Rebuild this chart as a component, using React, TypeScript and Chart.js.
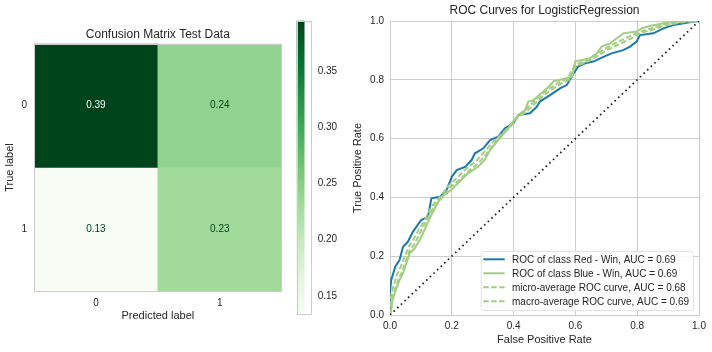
import React, { useEffect, useRef } from 'react';
import { Chart, registerables } from 'chart.js';

Chart.register(...registerables);

// ---------- data ----------
const CM_LABELS = ['0', '1'];
const CM_ROW_0 = [0.3949, 0.2421];
const CM_ROW_1 = [0.133, 0.23];
const CB_TICKS = [0.15, 0.2, 0.25, 0.3, 0.35];
const ROC_TICKS = [0, 0.2, 0.4, 0.6, 0.8, 1.0];

const RED_FPR = [0, 0, 0.004, 0.017, 0.031, 0.042, 0.058, 0.074, 0.101, 0.123, 0.134, 0.162, 0.183, 0.2, 0.216, 0.243, 0.264, 0.275, 0.302, 0.324, 0.35, 0.372, 0.399, 0.415, 0.453, 0.475, 0.485, 0.518, 0.55, 0.572, 0.588, 0.609, 0.631, 0.658, 0.68, 0.717, 0.755, 0.777, 0.798, 0.809, 0.852, 0.885, 0.917, 0.96, 0.987, 1];
const RED_TPR = [0, 0.079, 0.119, 0.164, 0.187, 0.232, 0.249, 0.283, 0.323, 0.334, 0.397, 0.402, 0.425, 0.47, 0.493, 0.504, 0.527, 0.55, 0.567, 0.595, 0.607, 0.635, 0.652, 0.68, 0.686, 0.708, 0.726, 0.748, 0.771, 0.782, 0.811, 0.845, 0.856, 0.862, 0.873, 0.89, 0.901, 0.913, 0.93, 0.952, 0.958, 0.975, 0.986, 0.994, 0.998, 1];

const BLUE_FPR = [0, 0.004, 0.008, 0.015, 0.031, 0.042, 0.053, 0.064, 0.08, 0.096, 0.112, 0.123, 0.145, 0.166, 0.198, 0.225, 0.252, 0.285, 0.306, 0.324, 0.35, 0.378, 0.394, 0.415, 0.437, 0.448, 0.464, 0.485, 0.507, 0.53, 0.561, 0.59, 0.599, 0.647, 0.669, 0.685, 0.712, 0.755, 0.798, 0.814, 0.841, 0.885, 0.928, 0.96, 1];
const BLUE_TPR = [0, 0.017, 0.05, 0.074, 0.119, 0.142, 0.176, 0.21, 0.227, 0.255, 0.289, 0.317, 0.363, 0.402, 0.425, 0.453, 0.482, 0.504, 0.527, 0.561, 0.595, 0.629, 0.652, 0.68, 0.697, 0.726, 0.731, 0.75, 0.77, 0.795, 0.803, 0.81, 0.862, 0.873, 0.89, 0.913, 0.924, 0.958, 0.964, 0.975, 0.983, 0.992, 0.998, 1, 1];

const MICRO_FPR = [0, 0.004, 0.012, 0.025, 0.038, 0.05, 0.062, 0.078, 0.093, 0.108, 0.12, 0.14, 0.165, 0.195, 0.225, 0.255, 0.285, 0.31, 0.335, 0.36, 0.39, 0.415, 0.44, 0.465, 0.49, 0.52, 0.55, 0.58, 0.6, 0.64, 0.67, 0.7, 0.74, 0.78, 0.81, 0.85, 0.89, 0.94, 1];
const MICRO_TPR = [0, 0.04, 0.075, 0.115, 0.145, 0.18, 0.215, 0.24, 0.27, 0.3, 0.325, 0.365, 0.395, 0.435, 0.46, 0.49, 0.515, 0.545, 0.58, 0.61, 0.64, 0.675, 0.69, 0.715, 0.74, 0.765, 0.785, 0.8, 0.845, 0.862, 0.88, 0.9, 0.92, 0.94, 0.96, 0.97, 0.985, 0.995, 1];

const MACRO_FPR = [0, 0.003, 0.01, 0.022, 0.035, 0.048, 0.06, 0.075, 0.09, 0.105, 0.118, 0.135, 0.16, 0.19, 0.22, 0.25, 0.28, 0.305, 0.33, 0.355, 0.385, 0.41, 0.435, 0.46, 0.485, 0.515, 0.545, 0.575, 0.598, 0.635, 0.665, 0.695, 0.73, 0.77, 0.805, 0.845, 0.885, 0.935, 1];
const MACRO_TPR = [0, 0.06, 0.095, 0.135, 0.165, 0.2, 0.23, 0.255, 0.285, 0.31, 0.335, 0.37, 0.4, 0.44, 0.47, 0.5, 0.525, 0.555, 0.585, 0.61, 0.64, 0.67, 0.695, 0.72, 0.745, 0.77, 0.79, 0.805, 0.85, 0.865, 0.885, 0.905, 0.925, 0.945, 0.962, 0.975, 0.988, 0.997, 1];

const DIAG_X = [0, 1];
const DIAG_Y = [0, 1];

const SERIES_LABELS = [
  'ROC of class Red - Win, AUC = 0.69',
  'ROC of class Blue - Win, AUC = 0.69',
  'micro-average ROC curve, AUC = 0.68',
  'macro-average ROC curve, AUC = 0.69',
];

// ---------- styles ----------
const FONT = '"Liberation Sans", Arial, sans-serif';
const TEXT = '#262626';
const GRID = '#cccccc';
const C_BLUE = '#1a78ad';
const C_GREEN = '#a3cd80';
const GREENS = ['#f7fcf5', '#e5f5e0', '#c7e9c0', '#a1d99b', '#74c476', '#41ab5d', '#238b45', '#006d2c', '#00441b'];

function hexRgb(h: string) {
  return [parseInt(h.slice(1, 3), 16), parseInt(h.slice(3, 5), 16), parseInt(h.slice(5, 7), 16)];
}
function greens(t: number) {
  const c = Math.max(0, Math.min(1, t)) * 8;
  const i = Math.min(7, Math.floor(c));
  const f = c - i;
  const a = hexRgb(GREENS[i]);
  const b = hexRgb(GREENS[i + 1]);
  const m = a.map((v, k) => Math.round(v + (b[k] - v) * f));
  return `rgb(${m[0]},${m[1]},${m[2]})`;
}

const ALL_CM = [...CM_ROW_0, ...CM_ROW_1];
const VMIN = Math.min(...ALL_CM);
const VMAX = Math.max(...ALL_CM);
const norm = (v: number) => (v - VMIN) / (VMAX - VMIN);

const framePlugin = {
  id: 'frame',
  afterDraw(chart: any, _a: any, opts: any) {
    if (!opts || !opts.color) return;
    const { ctx, chartArea: ca } = chart;
    ctx.save();
    ctx.strokeStyle = opts.color;
    ctx.lineWidth = 1;
    ctx.strokeRect(Math.round(ca.left) + 0.5, Math.round(ca.top) + 0.5, Math.round(ca.right - ca.left) - 1, Math.round(ca.bottom - ca.top) - 1);
    ctx.restore();
  },
};

const cellLabelPlugin = {
  id: 'cellLabels',
  afterDatasetsDraw(chart: any) {
    const { ctx } = chart;
    ctx.save();
    ctx.font = `10px ${FONT}`;
    ctx.textAlign = 'center';
    ctx.textBaseline = 'middle';
    chart.data.datasets.forEach((ds: any, di: number) => {
      const meta = chart.getDatasetMeta(di);
      meta.data.forEach((el: any, i: number) => {
        const v = ds.cellValues[i];
        const p = el.getProps(['x', 'y', 'base'], true);
        ctx.fillStyle = norm(v) > 0.5 ? GREENS[0] : GREENS[8];
        ctx.fillText(v.toFixed(2), p.x, (p.y + p.base) / 2);
      });
    });
    ctx.restore();
  },
};

const rocLegendPlugin = {
  id: 'rocLegend',
  afterDatasetsDraw(chart: any) {
    const { ctx, chartArea: ca } = chart;
    const items = chart.data.datasets.filter((d: any) => d.inLegend);
    ctx.save();
    ctx.font = `10px ${FONT}`;
    const tw = Math.max(...items.map((d: any) => ctx.measureText(d.label).width));
    const rowH = 14;
    const w = 31.3 + tw + 4;
    const h = 8.3 + rowH * (items.length - 1) + 8.7;
    const x0 = ca.right - 6 - w;
    const y0 = ca.bottom - 5 - h;
    ctx.fillStyle = 'rgba(255,255,255,0.8)';
    ctx.strokeStyle = '#e3e3e3';
    ctx.lineWidth = 1;
    ctx.beginPath();
    (ctx as any).roundRect(x0 + 0.5, y0 + 0.5, w, h, 3);
    ctx.fill();
    ctx.stroke();
    items.forEach((d: any, i: number) => {
      const y = y0 + 8.3 + i * rowH;
      ctx.strokeStyle = d.borderColor;
      ctx.lineWidth = d.borderWidth;
      ctx.setLineDash(d.borderDash || []);
      ctx.beginPath();
      ctx.moveTo(x0 + 2.6, y);
      ctx.lineTo(x0 + 24, y);
      ctx.stroke();
      ctx.setLineDash([]);
      ctx.fillStyle = TEXT;
      ctx.textAlign = 'left';
      ctx.textBaseline = 'middle';
      ctx.fillText(d.label, x0 + 31.3, y + 0.5);
    });
    ctx.restore();
  },
};

const toPts = (xs: number[], ys: number[]) => xs.map((x, i) => ({ x, y: ys[i] }));

export default function App() {
  const cmRef = useRef<HTMLCanvasElement>(null);
  const cbRef = useRef<HTMLCanvasElement>(null);
  const rocRef = useRef<HTMLCanvasElement>(null);

  useEffect(() => {
    Chart.defaults.font.family = FONT;
    Chart.defaults.color = TEXT;

    const cm = new Chart(cmRef.current!, {
      type: 'bar',
      data: {
        labels: CM_LABELS,
        datasets: [CM_ROW_0, CM_ROW_1].map((row, r) => ({
          label: 'row ' + CM_LABELS[r],
          data: row.map(() => [r - 0.5, r + 0.5]),
          cellValues: row,
          backgroundColor: row.map((v) => greens(norm(v))),
          borderWidth: 0,
          barPercentage: 1,
          categoryPercentage: 1,
          grouped: false,
        })) as any,
      },
      options: {
        responsive: false,
        animation: false,
        devicePixelRatio: 1,
        events: [],
        layout: { padding: { left: 0, right: 14.3, top: 0, bottom: 0 } },
        plugins: {
          legend: { display: false },
          tooltip: { enabled: false },
          title: {
            display: true,
            text: 'Confusion Matrix Test Data',
            fullSize: false,
            color: TEXT,
            font: { size: 12, weight: 'normal' },
            padding: { top: 27, bottom: 2.3 },
          },
          frame: { color: GRID },
        } as any,
        scales: {
          x: {
            type: 'category',
            grid: { display: false, drawTicks: false },
            border: { display: false },
            ticks: { padding: 6, color: TEXT, font: { size: 10 } },
            title: { display: true, text: 'Predicted label', color: TEXT, font: { size: 11 }, padding: { top: 0, bottom: 29.4 } },
            afterFit: (s: any) => { s.height = 60.7; },
          },
          y: {
            type: 'linear',
            min: -0.5,
            max: 1.5,
            reverse: true,
            afterBuildTicks: (s: any) => { s.ticks = CM_LABELS.map((_, i) => ({ value: i })); },
            grid: { display: false, drawTicks: false },
            border: { display: false },
            ticks: { padding: 7, color: TEXT, font: { size: 10 }, callback: (v: any) => CM_LABELS[v] },
            title: { display: true, text: 'True label', color: TEXT, font: { size: 11 }, padding: { top: 3.4, bottom: 0 } },
            afterFit: (s: any) => { s.width = 34; },
          },
        },
      },
      plugins: [framePlugin, cellLabelPlugin],
    });

    const cb = new Chart(cbRef.current!, {
      type: 'bar',
      data: {
        labels: [''],
        datasets: [{
          label: 'colorbar',
          data: [[VMIN, VMAX]] as any,
          backgroundColor: (c: any) => {
            const ca = c.chart.chartArea;
            if (!ca) return GREENS[4];
            const g = c.chart.ctx.createLinearGradient(0, ca.bottom, 0, ca.top);
            GREENS.forEach((col, i) => g.addColorStop(i / 8, col));
            return g;
          },
          borderWidth: 0,
          barPercentage: 1,
          categoryPercentage: 1,
        }],
      },
      options: {
        responsive: false,
        animation: false,
        devicePixelRatio: 1,
        events: [],
        layout: { padding: { left: 6.7, right: 0, top: 20.7, bottom: 37 } },
        plugins: { legend: { display: false }, tooltip: { enabled: false }, frame: { color: GRID } } as any,
        scales: {
          x: { display: false, offset: false },
          y: {
            position: 'right',
            min: VMIN,
            max: VMAX,
            afterBuildTicks: (s: any) => { s.ticks = CB_TICKS.map((v) => ({ value: v })); },
            grid: { display: false, drawTicks: false },
            border: { display: false },
            ticks: { padding: 6, color: TEXT, font: { size: 10 }, callback: (v: any) => Number(v).toFixed(2) },
            afterFit: (s: any) => { s.width = 38.3; },
          },
        },
      },
      plugins: [framePlugin],
    });

    const roc = new Chart(rocRef.current!, {
      type: 'line',
      data: {
        datasets: [
          { label: SERIES_LABELS[0], data: toPts(RED_FPR, RED_TPR), borderColor: C_BLUE, borderWidth: 2, inLegend: true, order: 4 },
          { label: SERIES_LABELS[1], data: toPts(BLUE_FPR, BLUE_TPR), borderColor: C_GREEN, borderWidth: 2, inLegend: true, order: 3 },
          { label: SERIES_LABELS[2], data: toPts(MICRO_FPR, MICRO_TPR), borderColor: C_GREEN, borderWidth: 2, borderDash: [5.5, 2.4], inLegend: true, order: 2 },
          { label: SERIES_LABELS[3], data: toPts(MACRO_FPR, MACRO_TPR), borderColor: C_GREEN, borderWidth: 2, borderDash: [5.5, 2.4], inLegend: true, order: 1 },
          { label: 'diagonal', data: toPts(DIAG_X, DIAG_Y), borderColor: '#222222', borderWidth: 1.8, borderDash: [1.6, 3.4], inLegend: false, order: 0 },
        ].map((d) => ({ ...d, pointRadius: 0, tension: 0, fill: false })) as any,
      },
      options: {
        responsive: false,
        animation: false,
        devicePixelRatio: 1,
        events: [],
        layout: { padding: { left: 0, right: 13, top: 0, bottom: 0 } },
        plugins: {
          legend: { display: false },
          tooltip: { enabled: false },
          title: {
            display: true,
            text: 'ROC Curves for LogisticRegression',
            fullSize: false,
            color: TEXT,
            font: { size: 12, weight: 'normal' },
            padding: { top: 3, bottom: 3.6 },
          },
        },
        scales: {
          x: {
            type: 'linear',
            min: 0,
            max: 1,
            afterBuildTicks: (s: any) => { s.ticks = ROC_TICKS.map((v) => ({ value: v })); },
            grid: { color: GRID, drawTicks: false, lineWidth: 1 },
            border: { color: GRID },
            ticks: { padding: 5, color: TEXT, font: { size: 10 }, callback: (v: any) => Number(v).toFixed(1) },
            title: { display: true, text: 'False Positive Rate', color: TEXT, font: { size: 11 }, padding: { top: 0, bottom: 5.4 } },
            afterFit: (s: any) => { s.height = 37; },
          },
          y: {
            type: 'linear',
            min: 0,
            max: 1,
            afterBuildTicks: (s: any) => { s.ticks = ROC_TICKS.map((v) => ({ value: v })); },
            grid: { color: GRID, drawTicks: false, lineWidth: 1 },
            border: { color: GRID },
            ticks: { padding: 6, color: TEXT, font: { size: 10 }, callback: (v: any) => Number(v).toFixed(1) },
            title: { display: true, text: 'True Positive Rate', color: TEXT, font: { size: 11 }, padding: { top: 11.4, bottom: 0 } },
            afterFit: (s: any) => { s.width = 50; },
          },
        },
      },
      plugins: [rocLegendPlugin],
    });

    return () => {
      cm.destroy();
      cb.destroy();
      roc.destroy();
    };
  }, []);

  const abs = (left: number, width: number): React.CSSProperties => ({
    position: 'absolute', left, top: 0, width, height: 352, display: 'block',
  });

  return (
    <div style={{ position: 'absolute', left: 0, top: 0, width: 712, height: 352, background: '#ffffff', overflow: 'hidden' }}>
      <canvas ref={cmRef} width={296} height={352} style={abs(0, 296)} />
      <canvas ref={cbRef} width={60} height={352} style={abs(290, 60)} />
      <canvas ref={rocRef} width={372} height={352} style={abs(340, 372)} />
    </div>
  );
}
